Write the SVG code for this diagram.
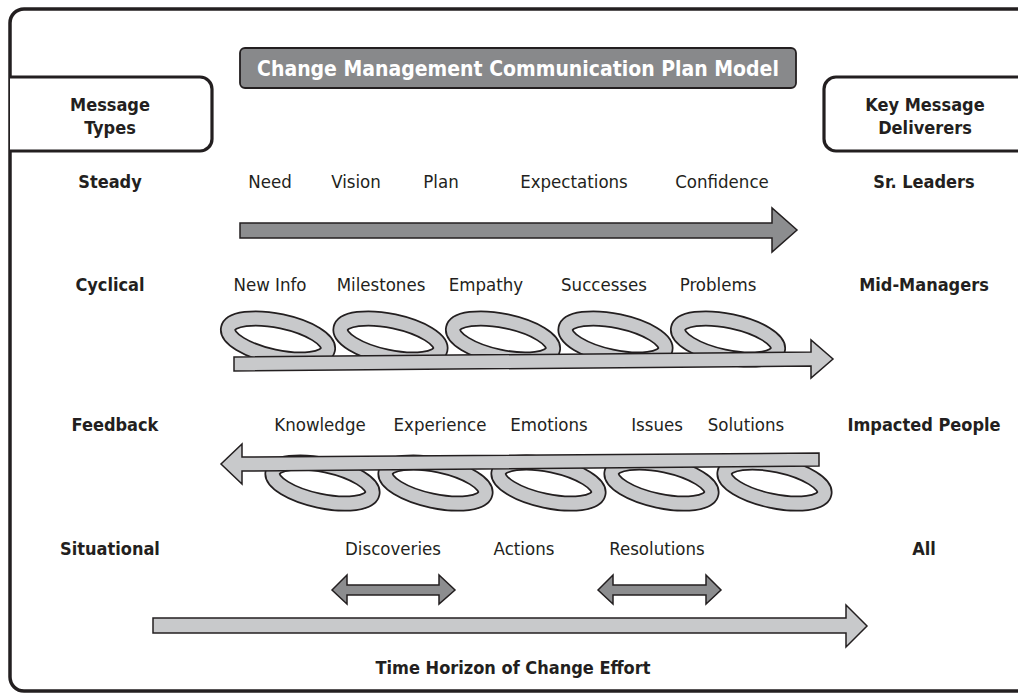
<svg xmlns="http://www.w3.org/2000/svg" width="1018" height="693" viewBox="0 0 1018 693">
<style>
text{font-family:'DejaVu Sans Condensed','DejaVu Sans',sans-serif;font-stretch:condensed;fill:#231f20;text-anchor:middle}
.b{font-weight:bold;font-size:18px}
.r{font-size:18.5px}
.t{font-weight:bold;font-size:21px;fill:#fff}
.frame{fill:none;stroke:#231f20;stroke-width:3.5}
.box{fill:#fff;stroke:#231f20;stroke-width:3.2}
.dark{fill:#8c8d8f;stroke:#231f20;stroke-width:1.5;stroke-linejoin:miter}
.light{fill:#c8c9cb;stroke:#231f20;stroke-width:1.5}
.ringo{fill:none;stroke:#231f20;stroke-width:16}
.ringi{fill:none;stroke:#c8c9cb;stroke-width:12.5}
</style>
<defs>
<g id="loop">
<ellipse class="ringo" cx="0" cy="0" rx="51" ry="18" transform="rotate(12)"/>
<ellipse class="ringi" cx="0" cy="0" rx="51" ry="18" transform="rotate(12)"/>
</g>
</defs>
<rect width="1018" height="693" fill="#fff"/>
<rect class="frame" x="10" y="9" width="1040" height="682" rx="14"/>

<g id="title">
<rect x="240" y="48" width="556" height="40" rx="5" fill="#88898b" stroke="#231f20" stroke-width="1.8"/>
<text class="t" x="518" y="75.5">Change Management Communication Plan Model</text>
</g>

<g id="message-types">
<path class="box" d="M10,77 H200 A12,12 0 0 1 212,89 V139 A12,12 0 0 1 200,151 H10"/>
<text class="b" x="110" y="111">Message</text>
<text class="b" x="110" y="134">Types</text>
</g>
<g id="key-message-deliverers">
<path class="box" d="M1030,77 H836 A12,12 0 0 0 824,89 V139 A12,12 0 0 0 836,151 H1030"/>
<text class="b" x="925" y="111">Key Message</text>
<text class="b" x="925" y="134">Deliverers</text>
</g>

<g id="row-steady">
<text class="b" x="110" y="188">Steady</text>
<text class="r" x="270" y="188">Need</text>
<text class="r" x="356" y="188">Vision</text>
<text class="r" x="441" y="188">Plan</text>
<text class="r" x="574" y="188">Expectations</text>
<text class="r" x="722" y="188">Confidence</text>
<text class="b" x="924" y="188">Sr. Leaders</text>
</g>

<g id="row-cyclical">
<text class="b" x="110" y="291">Cyclical</text>
<text class="r" x="270" y="291">New Info</text>
<text class="r" x="381" y="291">Milestones</text>
<text class="r" x="486" y="291">Empathy</text>
<text class="r" x="604" y="291">Successes</text>
<text class="r" x="718" y="291">Problems</text>
<text class="b" x="924" y="291">Mid-Managers</text>
</g>

<g id="row-feedback">
<text class="b" x="115" y="431">Feedback</text>
<text class="r" x="320" y="431">Knowledge</text>
<text class="r" x="440" y="431">Experience</text>
<text class="r" x="549" y="431">Emotions</text>
<text class="r" x="657" y="431">Issues</text>
<text class="r" x="746" y="431">Solutions</text>
<text class="b" x="924" y="431">Impacted People</text>
</g>

<g id="row-situational">
<text class="b" x="110" y="555">Situational</text>
<text class="r" x="393" y="555">Discoveries</text>
<text class="r" x="524" y="555">Actions</text>
<text class="r" x="657" y="555">Resolutions</text>
<text class="b" x="924" y="555">All</text>
</g>

<g id="connectors">
<polygon class="dark" points="240,223 772,223 772,208 797,230 772,252 772,238 240,238"/>
<g id="coil-cyclical">
<use href="#loop" x="278" y="339"/>
<use href="#loop" x="390.5" y="339"/>
<use href="#loop" x="503" y="339"/>
<use href="#loop" x="615.5" y="339"/>
<use href="#loop" x="728" y="339"/>
<polygon class="light" points="234,357 811,352 811,340 833,359 811,378 811,366 234,371"/>
</g>
<g id="coil-feedback">
<use href="#loop" x="322.5" y="483"/>
<use href="#loop" x="435.5" y="483"/>
<use href="#loop" x="548.5" y="483"/>
<use href="#loop" x="661.5" y="483"/>
<use href="#loop" x="774.5" y="483"/>
<polygon class="light" points="819,453 242,457 242,444 221,464 242,484 242,471 819,466"/>
</g>
<polygon class="dark" points="332,590 347,575 347,585 439,585 439,575 455,590 439,604 439,595 347,595 347,604"/>
<polygon class="dark" points="598,590 613,575 613,585 706,585 706,575 721,590 706,604 706,595 613,595 613,604"/>
<polygon class="light" points="153,618 846,618 846,605 867,626 846,647 846,633 153,633"/>
</g>
<text class="b" x="513" y="674">Time Horizon of Change Effort</text>
</svg>
